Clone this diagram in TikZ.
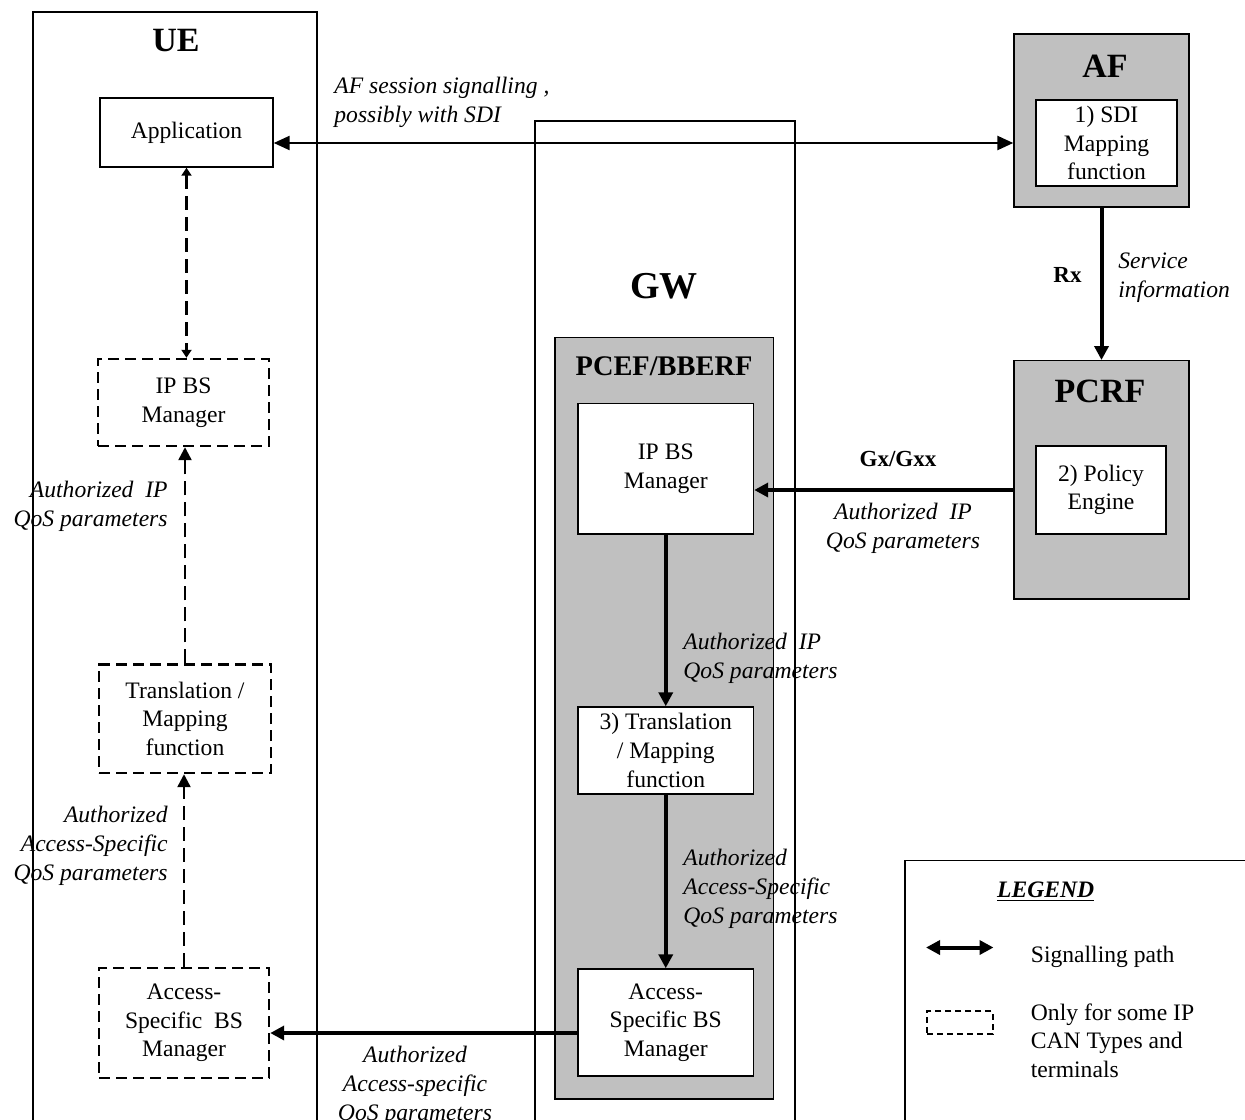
\documentclass[tikz,border=0pt]{standalone}
\usepackage{fontspec}
\setmainfont{Liberation Serif}
\usetikzlibrary{arrows.meta}
\definecolor{boxgray}{RGB}{192,192,192}
\begin{document}
\begin{tikzpicture}[x=0.5pt,y=-0.5pt,
  txt/.style={font=\fontsize{11.8}{14.3}\selectfont, align=center},
  box/.style={draw, line width=0.7pt, fill=white, inner sep=0pt, txt},
  gbox/.style={draw, line width=0.7pt, fill=boxgray, inner sep=0pt},
  dbox/.style={draw, line width=1.2pt, dash pattern=on 5.5pt off 3pt, inner sep=0pt, txt},
  cont/.style={draw, line width=0.7pt, inner sep=0pt},
  lab/.style={font=\fontsize{11.8}{14.5}\selectfont\itshape, inner sep=0pt},
  boldlab/.style={font=\fontsize{11.5}{14}\selectfont\bfseries, inner sep=0pt},
  title/.style={font=\fontsize{17}{20}\selectfont\bfseries, inner sep=0pt},
  thickarr/.style={line width=2pt, -{Triangle[length=7pt,width=7pt]}},
  sigarr/.style={line width=1.2pt, {Triangle[length=8pt,width=7pt]}-{Triangle[length=8pt,width=7pt]}},
  dasharr/.style={line width=1.2pt, dash pattern=on 7pt off 3.5pt, -{Triangle[length=6.5pt,width=6.5pt]}},
  dashdbl/.style={line width=1.2pt, dash pattern=on 7pt off 3.5pt, {Triangle[length=4pt,width=5pt]}-{Triangle[length=4pt,width=5pt]}},
]
\useasboundingbox (0,0) rectangle (1245,1119);
\clip (0,0) rectangle (1245,1119);

% containers
\node[cont, minimum width=142pt, minimum height=564pt] (ue) at (175,576) {};
\node[title] (uet) at (176,41) {UE};
\node[cont, minimum width=130pt, minimum height=509.5pt] (gw) at (665,630.5) {};
\node[font=\fontsize{19}{22}\selectfont\bfseries, inner sep=0pt] (gwt) at (664,286) {GW};

% AF
\node[gbox, minimum width=87.5pt, minimum height=86.5pt] (af) at (1101.5,120.5) {};
\node[title] (aft) at (1105,66) {AF};
\node[box, minimum width=70.5pt, minimum height=43pt] (sdi) at (1106.5,143) {1) SDI\\Mapping\\function};

% PCRF
\node[gbox, minimum width=87.5pt, minimum height=119.15pt] (pcrf) at (1101.5,479.85) {};
\node[title] (pcrft) at (1100,391) {PCRF};
\node[box, minimum width=65pt, minimum height=44pt] (pe) at (1101,490) {2) Policy\\Engine};

% PCEF/BBERF
\node[gbox, minimum width=109.25pt, minimum height=380.75pt] (pcef) at (664.25,718.25) {};
\node[font=\fontsize{14.2}{16}\selectfont\bfseries, inner sep=0pt] (pceft) at (664,366) {PCEF/BBERF};
\node[box, minimum width=87.75pt, minimum height=65.2pt] (gipbs) at (665.75,468.8) {IP BS\\Manager};
\node[box, minimum width=87.75pt, minimum height=43.5pt] (gtr) at (665.75,750.5) {3) Translation\\/ Mapping\\function};
\node[box, minimum width=87.75pt, minimum height=53.5pt] (gacc) at (665.75,1022.5) {Access-\\Specific BS\\Manager};

% UE internals
\node[box, minimum width=86.5pt, minimum height=34.5pt] (app) at (186.5,132.5) {Application};
\node[dbox, minimum width=85.5pt, minimum height=43.5pt] (uipbs) at (183.5,402.5) {IP BS\\Manager};
\node[dbox, minimum width=86pt, minimum height=54.25pt] (utr) at (185,718.75) {Translation /\\Mapping\\function};
\node[dbox, minimum width=85pt, minimum height=55pt] (uacc) at (184,1023) {Access-\\Specific\ \ BS\\Manager};

% helper coordinates
\coordinate (sigy) at (0,143);
\coordinate (gxy) at (0,490);
\coordinate (accy) at (0,1033);

% connectors
\draw[sigarr] (app.east |- sigy) -- (af.west |- sigy);
\draw[thickarr] (af.south) -- (pcrf.north);
\draw[thickarr] (pcrf.west |- gxy) -- (gipbs.east |- gxy);
\draw[thickarr] (gipbs.south) -- (gtr.north);
\draw[thickarr] (gtr.south) -- (gacc.north);
\draw[thickarr] (gacc.west |- accy) -- (uacc.east |- accy);
\draw[dashdbl] (app.south) -- (app.south |- uipbs.north);
\draw[dasharr] (utr.north) -- (utr.north |- uipbs.south);
\draw[dasharr] (uacc.north) -- (uacc.north |- utr.south);

% labels
\node[lab, anchor=west, align=left] (l1) at (334,102) {AF session signalling ,\\possibly with SDI};
\node[boldlab] (rx) at (1067.5,275) {Rx};
\node[lab, anchor=west, align=left] (l2) at (1118,277.5) {Service\\information};
\node[boldlab] (gx) at (898,459) {Gx/Gxx};
\node[lab, align=center] (l3) at (903,528.5) {Authorized\ \ IP\\QoS parameters};
\node[lab, anchor=west, align=left] (l4) at (683,658.5) {Authorized\ \ IP\\QoS parameters};
\node[lab, anchor=west, align=left] (l5) at (683,889) {Authorized\\Access-Specific\\QoS parameters};
\node[lab, anchor=east, align=right] (l6) at (168,506.5) {Authorized\ \ IP\\QoS parameters};
\node[lab, anchor=east, align=right] (l7) at (168,846) {Authorized\\Access-Specific\\QoS parameters};
\node[lab, align=center] (l8) at (415,1086) {Authorized\\Access-specific\\QoS parameters};

% legend
\node[cont, minimum width=197.5pt, minimum height=149.75pt] (leg) at (1102.5,1010.25) {};
\node[font=\fontsize{11.8}{14}\selectfont\bfseries\itshape, inner sep=0pt] (legt) at (1045.6,891.5) {\underline{LEGEND}};
\coordinate (la) at (926,947.5);
\coordinate (lb) at (993.5,947.5);
\draw[line width=2pt, {Triangle[length=7pt,width=7pt]}-{Triangle[length=7pt,width=7pt]}] (la) -- (lb);
\node[txt, anchor=west, inner sep=0pt] (lt1) at (1030.5,957) {Signalling path};
\node[dbox, dash pattern=on 3pt off 2pt, minimum width=32.8pt, minimum height=11.5pt] (ld) at (960,1022.5) {};
\node[txt, anchor=west, align=left, inner sep=0pt] (lt2) at (1030.5,1040.6) {Only for some IP\\CAN Types and\\terminals};
\end{tikzpicture}
\end{document}
